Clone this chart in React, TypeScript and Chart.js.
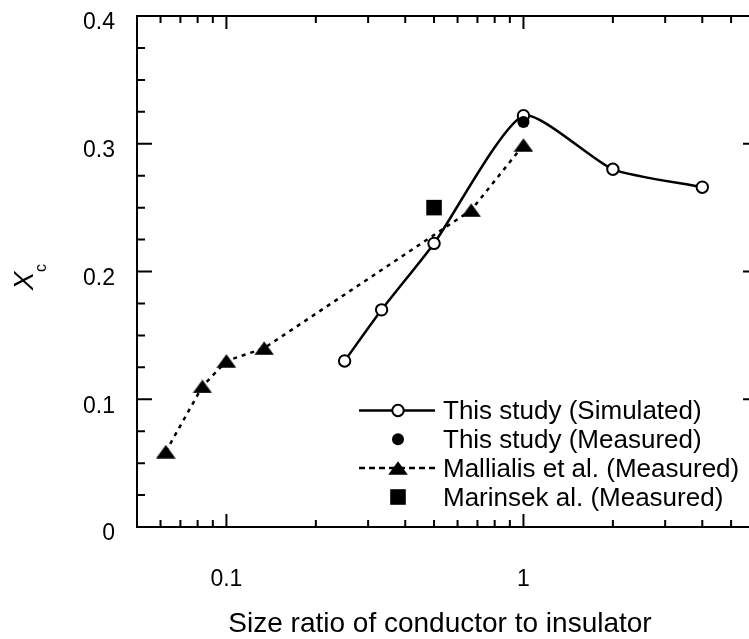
import React, { useEffect, useRef } from 'react';
import { Chart, registerables } from 'chart.js';

Chart.register(...registerables);

// ---- data ----
const simulatedX = [0.25, 0.333, 0.5, 1, 2, 4];
const simulatedY = [0.13, 0.17, 0.222, 0.322, 0.28, 0.266];
const measuredX = [1];
const measuredY = [0.317];
const mallialisX = [0.0625, 0.083, 0.1, 0.134, 0.667, 1];
const mallialisY = [0.059, 0.11, 0.13, 0.14, 0.248, 0.299];
const marinsekX = [0.5];
const marinsekY = [0.25];
const seriesLabels = [
  'This study (Simulated)',
  'This study (Measured)',
  'Mallialis et al. (Measured)',
  'Marinsek al. (Measured)',
];
const xTickLabels = [0.1, 1];
const yTickValues = [0, 0.1, 0.2, 0.3, 0.4];
const xTitle = 'Size ratio of conductor to insulator';
const yTitleMain = 'X';
const yTitleSub = 'c';

const FONT = "'Liberation Sans', Arial, sans-serif";

function makeTriangle(): HTMLCanvasElement {
  const c = document.createElement('canvas');
  c.width = 20;
  c.height = 14;
  const g = c.getContext('2d')!;
  g.fillStyle = '#000';
  g.beginPath();
  g.moveTo(0.2, 13.8);
  g.lineTo(10, 0.2);
  g.lineTo(19.8, 13.8);
  g.closePath();
  g.fill();
  return c;
}

const zip = (xs: number[], ys: number[]) => xs.map((x, i) => ({ x, y: ys[i] }));

const zeroPad = (s: any) => {
  s.paddingLeft = 0;
  s.paddingRight = 0;
  s.paddingTop = 0;
  s.paddingBottom = 0;
};

export default function App() {
  const ref = useRef<HTMLCanvasElement | null>(null);

  useEffect(() => {
    document.body.style.margin = '0';
    document.body.style.overflow = 'hidden';
    const canvas = ref.current!;
    const tri = makeTriangle();

    const framePlugin = {
      id: 'frame',
      beforeDatasetsDraw(chart: any) {
        const { ctx, chartArea: a } = chart;
        const xs = chart.scales.x;
        const ys = chart.scales.y;
        ctx.save();
        ctx.strokeStyle = '#000';
        ctx.lineWidth = 2;
        ctx.strokeRect(a.left, a.top, a.right - a.left, a.bottom - a.top);
        ctx.beginPath();
        const xmin = xs.min, xmax = xs.max;
        for (let d = Math.floor(Math.log10(xmin)); d <= Math.ceil(Math.log10(xmax)); d++) {
          for (let k = 1; k <= 9; k++) {
            const v = k * Math.pow(10, d);
            if (v < xmin * 1.0001 || v > xmax * 0.9999) continue;
            const len = k === 1 ? 13 : 7;
            const px = xs.getPixelForValue(v);
            ctx.moveTo(px, a.bottom);
            ctx.lineTo(px, a.bottom - len);
            ctx.moveTo(px, a.top);
            ctx.lineTo(px, a.top + len);
          }
        }
        for (let i = 1; i < 16; i++) {
          const v = i * 0.025;
          const len = i % 4 === 0 ? 15 : 8;
          const py = ys.getPixelForValue(v);
          ctx.moveTo(a.left, py);
          ctx.lineTo(a.left + len, py);
          ctx.moveTo(a.right, py);
          ctx.lineTo(a.right - len, py);
        }
        ctx.stroke();
        ctx.restore();
      },
      afterDraw(chart: any) {
        const { ctx } = chart;
        ctx.save();
        ctx.fillStyle = '#000';
        ctx.strokeStyle = '#000';
        // x title
        ctx.font = `28px ${FONT}`;
        ctx.textAlign = 'center';
        ctx.textBaseline = 'alphabetic';
        ctx.fillText(xTitle, 440, 632);
        // y title
        ctx.save();
        ctx.translate(33, 281);
        ctx.rotate(-Math.PI / 2);
        ctx.font = `italic 28px ${FONT}`;
        ctx.textAlign = 'center';
        ctx.fillText(yTitleMain, 0, 0);
        ctx.font = `16px ${FONT}`;
        ctx.fillText(yTitleSub, 13, 13);
        ctx.restore();
        // legend
        const x0 = 359, x1 = 435, xm = 398, tx = 443;
        const rows = [410.5, 439.3, 468, 497];
        ctx.font = `26px ${FONT}`;
        ctx.textAlign = 'left';
        ctx.textBaseline = 'middle';
        rows.forEach((y, i) => {
          ctx.lineWidth = 2.5;
          if (i === 0 || i === 2) {
            ctx.setLineDash(i === 2 ? [6, 4] : []);
            ctx.beginPath();
            ctx.moveTo(x0, y);
            ctx.lineTo(x1, y);
            ctx.stroke();
            ctx.setLineDash([]);
          }
          if (i === 0) {
            ctx.beginPath();
            ctx.arc(xm, y, 5.7, 0, Math.PI * 2);
            ctx.fillStyle = '#fff';
            ctx.fill();
            ctx.lineWidth = 2;
            ctx.stroke();
            ctx.fillStyle = '#000';
          } else if (i === 1) {
            ctx.beginPath();
            ctx.arc(xm, y, 6, 0, Math.PI * 2);
            ctx.fill();
          } else if (i === 2) {
            ctx.drawImage(tri, xm - 10, y - 7);
          } else {
            ctx.fillRect(xm - 7.8, y - 7.8, 15.6, 15.6);
          }
          ctx.fillText(seriesLabels[i], tx, y + 1.5);
        });
        ctx.restore();
      },
    };

    const chart = new Chart(canvas, {
      type: 'scatter',
      data: {
        datasets: [
          {
            label: seriesLabels[0],
            data: zip(simulatedX, simulatedY),
            showLine: true,
            borderColor: '#000',
            borderWidth: 2.5,
            tension: 0.2,
            pointStyle: 'circle',
            pointRadius: 5.7,
            pointBackgroundColor: '#fff',
            pointBorderColor: '#000',
            pointBorderWidth: 2,
            order: 3,
          },
          {
            label: seriesLabels[1],
            data: zip(measuredX, measuredY),
            showLine: false,
            pointStyle: 'circle',
            pointRadius: 6,
            pointBackgroundColor: '#000',
            pointBorderColor: '#000',
            pointBorderWidth: 0,
            order: 1,
          },
          {
            label: seriesLabels[2],
            data: zip(mallialisX, mallialisY),
            showLine: true,
            borderColor: '#000',
            borderWidth: 2.5,
            borderDash: [4, 5],
            tension: 0,
            pointStyle: tri,
            pointRadius: 10,
            order: 4,
          },
          {
            label: seriesLabels[3],
            data: zip(marinsekX, marinsekY),
            showLine: false,
            pointStyle: 'rect',
            pointRadius: 11,
            pointBackgroundColor: '#000',
            pointBorderColor: '#000',
            pointBorderWidth: 0,
            order: 2,
          },
        ],
      } as any,
      options: {
        animation: false,
        responsive: false,
        maintainAspectRatio: false,
        layout: { autoPadding: false, padding: { left: 0, right: 2, top: 16, bottom: 0 } },
        plugins: { legend: { display: false }, tooltip: { enabled: false } },
        scales: {
          x: {
            type: 'logarithmic',
            min: 0.05,
            max: 6.16,
            grid: { display: false, drawTicks: false },
            border: { display: false },
            ticks: {
              autoSkip: false,
              maxRotation: 0,
              padding: 39,
              color: '#000',
              font: { family: FONT, size: 23 },
              callback: (v: any) => {
                const n = Number(v);
                const hit = xTickLabels.find((t) => Math.abs(t - n) < 1e-9 * Math.max(1, t));
                return hit !== undefined ? String(hit) : '';
              },
            },
            afterFit: (s: any) => {
              s.height = 112;
              zeroPad(s);
            },
          },
          y: {
            min: 0,
            max: 0.4,
            grid: { display: false, drawTicks: false },
            border: { display: false },
            afterBuildTicks: (s: any) => {
              s.ticks = yTickValues.map((v) => ({ value: v }));
            },
            ticks: {
              padding: 22,
              labelOffset: 7,
              color: '#000',
              font: { family: FONT, size: 23 },
              callback: (v: any) => (Number(v) === 0 ? '0' : Number(v).toFixed(1)),
            },
            afterFit: (s: any) => {
              s.width = 137;
              zeroPad(s);
            },
          },
        },
      } as any,
      plugins: [framePlugin],
    });
    return () => chart.destroy();
  }, []);

  return (
    <div style={{ width: 749, height: 639, overflow: 'hidden' }}>
      <canvas ref={ref} width={760} height={639} style={{ display: 'block' }} />
    </div>
  );
}
